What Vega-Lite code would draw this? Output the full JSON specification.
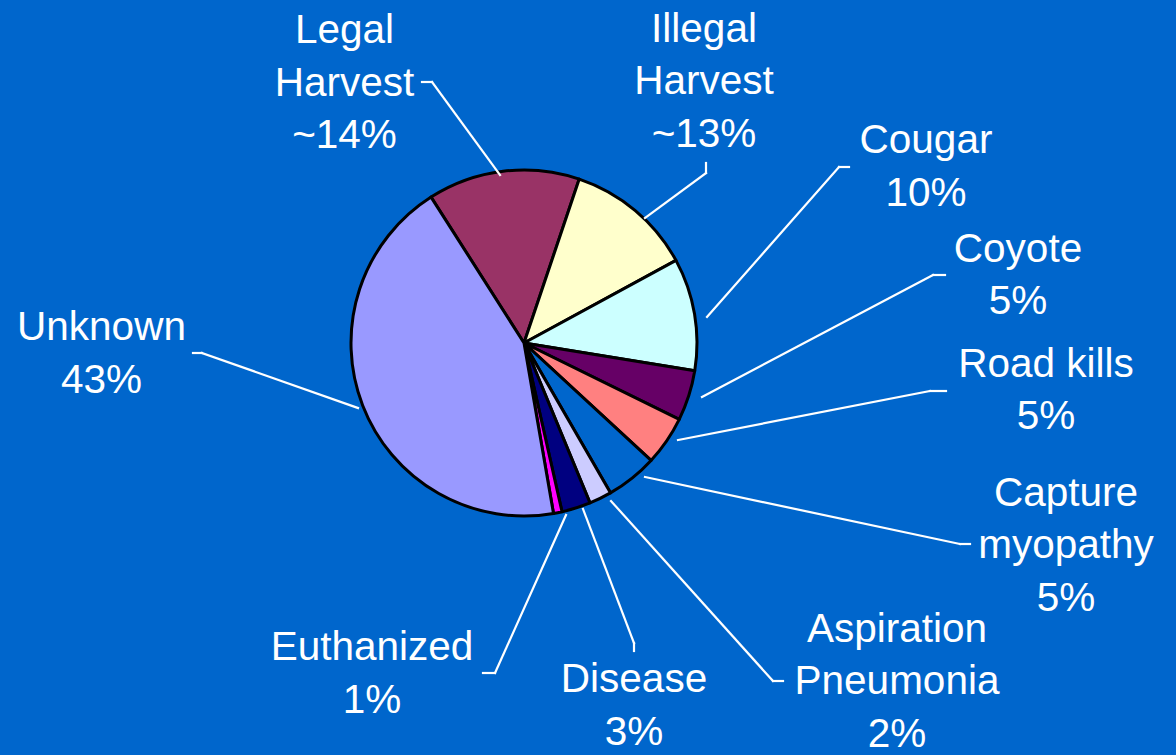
{
  "$schema": "https://vega.github.io/schema/vega-lite/v6.json",
  "width": 1048,
  "height": 686,
  "autosize": {"type": "none"},
  "padding": {"left": 0, "top": 0, "right": 128, "bottom": 69},
  "background": "#0066CC",
  "config": {
    "view": {"stroke": null},
    "text": {"font": "Liberation Sans", "fontSize": 40.5, "lineHeight": 52.5, "lineBreak": "\n", "align": "center", "baseline": "alphabetic", "fill": "#FFFFFF"},
    "rule": {"stroke": "#FFFFFF", "strokeWidth": 2.2, "strokeCap": "square"}
  },
  "data": {
    "values": [
      {"cause": "Legal Harvest", "value": 14.2, "label": "Legal\nHarvest\n~14%"},
      {"cause": "Illegal Harvest", "value": 11.9, "label": "Illegal\nHarvest\n~13%"},
      {"cause": "Cougar", "value": 10.5, "label": "Cougar\n10%"},
      {"cause": "Coyote", "value": 4.7, "label": "Coyote\n5%"},
      {"cause": "Road kills", "value": 4.6, "label": "Road kills\n5%"},
      {"cause": "Capture myopathy", "value": 4.8, "label": "Capture\nmyopathy\n5%"},
      {"cause": "Aspiration Pneumonia", "value": 2.1, "label": "Aspiration\nPneumonia\n2%"},
      {"cause": "Disease", "value": 2.7, "label": "Disease\n3%"},
      {"cause": "Euthanized", "value": 0.8, "label": "Euthanized\n1%"},
      {"cause": "Unknown", "value": 43.7, "label": "Unknown\n43%"}
    ]
  },
  "transform": [{"window": [{"op": "row_number", "as": "slice_order"}]}],
  "layer": [
    {
      "mark": {"type": "arc", "outerRadius": 173, "stroke": "#000000", "strokeWidth": 3, "strokeJoin": "round"},
      "encoding": {
        "theta": {"field": "value", "type": "quantitative", "stack": true, "scale": {"range": [-0.5672, 5.716]}},
        "order": {"field": "slice_order", "type": "quantitative"},
        "color": {
          "field": "cause", "type": "nominal", "legend": null,
          "scale": {
            "domain": ["Legal Harvest", "Illegal Harvest", "Cougar", "Coyote", "Road kills", "Capture myopathy", "Aspiration Pneumonia", "Disease", "Euthanized", "Unknown"],
            "range": ["#993366", "#FFFFCC", "#CCFFFF", "#660066", "#FF8080", "#0066CC", "#CCCCFF", "#000080", "#FF00FF", "#9999FF"]
          }
        }
      }
    },
    {
      "transform": [{"filter": "datum.cause === 'Legal Harvest'"}],
      "layer": [
        {"mark": "text", "encoding": {"x": {"datum": -179.5, "type": "quantitative", "scale": {"domain": [-524, 524], "nice": false, "zero": false}, "axis": null}, "y": {"datum": 299.7, "type": "quantitative", "scale": {"domain": [-343, 343], "nice": false, "zero": false}, "axis": null}, "text": {"field": "label"}}},
        {"mark": "rule", "encoding": {"x": {"datum": -102, "type": "quantitative", "scale": {"domain": [-524, 524], "nice": false, "zero": false}, "axis": null}, "y": {"datum": 261, "type": "quantitative", "scale": {"domain": [-343, 343], "nice": false, "zero": false}, "axis": null}, "x2": {"datum": -92}, "y2": {"datum": 261}}},
        {"mark": "rule", "encoding": {"x": {"datum": -92, "type": "quantitative", "scale": {"domain": [-524, 524], "nice": false, "zero": false}, "axis": null}, "y": {"datum": 261, "type": "quantitative", "scale": {"domain": [-343, 343], "nice": false, "zero": false}, "axis": null}, "x2": {"datum": -24}, "y2": {"datum": 168}}}
      ]
    },
    {
      "transform": [{"filter": "datum.cause === 'Illegal Harvest'"}],
      "layer": [
        {"mark": "text", "encoding": {"x": {"datum": 180, "type": "quantitative", "scale": {"domain": [-524, 524], "nice": false, "zero": false}, "axis": null}, "y": {"datum": 301.3, "type": "quantitative", "scale": {"domain": [-343, 343], "nice": false, "zero": false}, "axis": null}, "text": {"field": "label"}}},
        {"mark": "rule", "encoding": {"x": {"datum": 182, "type": "quantitative", "scale": {"domain": [-524, 524], "nice": false, "zero": false}, "axis": null}, "y": {"datum": 180, "type": "quantitative", "scale": {"domain": [-343, 343], "nice": false, "zero": false}, "axis": null}, "x2": {"datum": 182}, "y2": {"datum": 170}}},
        {"mark": "rule", "encoding": {"x": {"datum": 182, "type": "quantitative", "scale": {"domain": [-524, 524], "nice": false, "zero": false}, "axis": null}, "y": {"datum": 170, "type": "quantitative", "scale": {"domain": [-343, 343], "nice": false, "zero": false}, "axis": null}, "x2": {"datum": 121}, "y2": {"datum": 125}}}
      ]
    },
    {
      "transform": [{"filter": "datum.cause === 'Cougar'"}],
      "layer": [
        {"mark": "text", "encoding": {"x": {"datum": 402, "type": "quantitative", "scale": {"domain": [-524, 524], "nice": false, "zero": false}, "axis": null}, "y": {"datum": 189.7, "type": "quantitative", "scale": {"domain": [-343, 343], "nice": false, "zero": false}, "axis": null}, "text": {"field": "label"}}},
        {"mark": "rule", "encoding": {"x": {"datum": 315, "type": "quantitative", "scale": {"domain": [-524, 524], "nice": false, "zero": false}, "axis": null}, "y": {"datum": 176, "type": "quantitative", "scale": {"domain": [-343, 343], "nice": false, "zero": false}, "axis": null}, "x2": {"datum": 325}, "y2": {"datum": 176}}},
        {"mark": "rule", "encoding": {"x": {"datum": 315, "type": "quantitative", "scale": {"domain": [-524, 524], "nice": false, "zero": false}, "axis": null}, "y": {"datum": 176, "type": "quantitative", "scale": {"domain": [-343, 343], "nice": false, "zero": false}, "axis": null}, "x2": {"datum": 183}, "y2": {"datum": 26}}}
      ]
    },
    {
      "transform": [{"filter": "datum.cause === 'Coyote'"}],
      "layer": [
        {"mark": "text", "encoding": {"x": {"datum": 494, "type": "quantitative", "scale": {"domain": [-524, 524], "nice": false, "zero": false}, "axis": null}, "y": {"datum": 81.3, "type": "quantitative", "scale": {"domain": [-343, 343], "nice": false, "zero": false}, "axis": null}, "text": {"field": "label"}}},
        {"mark": "rule", "encoding": {"x": {"datum": 409, "type": "quantitative", "scale": {"domain": [-524, 524], "nice": false, "zero": false}, "axis": null}, "y": {"datum": 68, "type": "quantitative", "scale": {"domain": [-343, 343], "nice": false, "zero": false}, "axis": null}, "x2": {"datum": 421}, "y2": {"datum": 68}}},
        {"mark": "rule", "encoding": {"x": {"datum": 409, "type": "quantitative", "scale": {"domain": [-524, 524], "nice": false, "zero": false}, "axis": null}, "y": {"datum": 68, "type": "quantitative", "scale": {"domain": [-343, 343], "nice": false, "zero": false}, "axis": null}, "x2": {"datum": 178}, "y2": {"datum": -54}}}
      ]
    },
    {
      "transform": [{"filter": "datum.cause === 'Road kills'"}],
      "layer": [
        {"mark": "text", "encoding": {"x": {"datum": 522, "type": "quantitative", "scale": {"domain": [-524, 524], "nice": false, "zero": false}, "axis": null}, "y": {"datum": -33.7, "type": "quantitative", "scale": {"domain": [-343, 343], "nice": false, "zero": false}, "axis": null}, "text": {"field": "label"}}},
        {"mark": "rule", "encoding": {"x": {"datum": 406, "type": "quantitative", "scale": {"domain": [-524, 524], "nice": false, "zero": false}, "axis": null}, "y": {"datum": -48, "type": "quantitative", "scale": {"domain": [-343, 343], "nice": false, "zero": false}, "axis": null}, "x2": {"datum": 422}, "y2": {"datum": -48}}},
        {"mark": "rule", "encoding": {"x": {"datum": 406, "type": "quantitative", "scale": {"domain": [-524, 524], "nice": false, "zero": false}, "axis": null}, "y": {"datum": -48, "type": "quantitative", "scale": {"domain": [-343, 343], "nice": false, "zero": false}, "axis": null}, "x2": {"datum": 154}, "y2": {"datum": -97}}}
      ]
    },
    {
      "transform": [{"filter": "datum.cause === 'Capture myopathy'"}],
      "layer": [
        {"mark": "text", "encoding": {"x": {"datum": 542, "type": "quantitative", "scale": {"domain": [-524, 524], "nice": false, "zero": false}, "axis": null}, "y": {"datum": -162.7, "type": "quantitative", "scale": {"domain": [-343, 343], "nice": false, "zero": false}, "axis": null}, "text": {"field": "label"}}},
        {"mark": "rule", "encoding": {"x": {"datum": 436, "type": "quantitative", "scale": {"domain": [-524, 524], "nice": false, "zero": false}, "axis": null}, "y": {"datum": -201, "type": "quantitative", "scale": {"domain": [-343, 343], "nice": false, "zero": false}, "axis": null}, "x2": {"datum": 446}, "y2": {"datum": -201}}},
        {"mark": "rule", "encoding": {"x": {"datum": 436, "type": "quantitative", "scale": {"domain": [-524, 524], "nice": false, "zero": false}, "axis": null}, "y": {"datum": -201, "type": "quantitative", "scale": {"domain": [-343, 343], "nice": false, "zero": false}, "axis": null}, "x2": {"datum": 121}, "y2": {"datum": -134}}}
      ]
    },
    {
      "transform": [{"filter": "datum.cause === 'Aspiration Pneumonia'"}],
      "layer": [
        {"mark": "text", "encoding": {"x": {"datum": 373, "type": "quantitative", "scale": {"domain": [-524, 524], "nice": false, "zero": false}, "axis": null}, "y": {"datum": -298.7, "type": "quantitative", "scale": {"domain": [-343, 343], "nice": false, "zero": false}, "axis": null}, "text": {"field": "label"}}},
        {"mark": "rule", "encoding": {"x": {"datum": 249, "type": "quantitative", "scale": {"domain": [-524, 524], "nice": false, "zero": false}, "axis": null}, "y": {"datum": -338, "type": "quantitative", "scale": {"domain": [-343, 343], "nice": false, "zero": false}, "axis": null}, "x2": {"datum": 259}, "y2": {"datum": -338}}},
        {"mark": "rule", "encoding": {"x": {"datum": 249, "type": "quantitative", "scale": {"domain": [-524, 524], "nice": false, "zero": false}, "axis": null}, "y": {"datum": -338, "type": "quantitative", "scale": {"domain": [-343, 343], "nice": false, "zero": false}, "axis": null}, "x2": {"datum": 87}, "y2": {"datum": -158}}}
      ]
    },
    {
      "transform": [{"filter": "datum.cause === 'Disease'"}],
      "layer": [
        {"mark": "text", "encoding": {"x": {"datum": 110, "type": "quantitative", "scale": {"domain": [-524, 524], "nice": false, "zero": false}, "axis": null}, "y": {"datum": -349, "type": "quantitative", "scale": {"domain": [-343, 343], "nice": false, "zero": false}, "axis": null}, "text": {"field": "label"}}},
        {"mark": "rule", "encoding": {"x": {"datum": 110, "type": "quantitative", "scale": {"domain": [-524, 524], "nice": false, "zero": false}, "axis": null}, "y": {"datum": -300, "type": "quantitative", "scale": {"domain": [-343, 343], "nice": false, "zero": false}, "axis": null}, "x2": {"datum": 110}, "y2": {"datum": -308}}},
        {"mark": "rule", "encoding": {"x": {"datum": 110, "type": "quantitative", "scale": {"domain": [-524, 524], "nice": false, "zero": false}, "axis": null}, "y": {"datum": -300, "type": "quantitative", "scale": {"domain": [-343, 343], "nice": false, "zero": false}, "axis": null}, "x2": {"datum": 59}, "y2": {"datum": -166}}}
      ]
    },
    {
      "transform": [{"filter": "datum.cause === 'Euthanized'"}],
      "layer": [
        {"mark": "text", "encoding": {"x": {"datum": -152, "type": "quantitative", "scale": {"domain": [-524, 524], "nice": false, "zero": false}, "axis": null}, "y": {"datum": -317, "type": "quantitative", "scale": {"domain": [-343, 343], "nice": false, "zero": false}, "axis": null}, "text": {"field": "label"}}},
        {"mark": "rule", "encoding": {"x": {"datum": -41, "type": "quantitative", "scale": {"domain": [-524, 524], "nice": false, "zero": false}, "axis": null}, "y": {"datum": -330, "type": "quantitative", "scale": {"domain": [-343, 343], "nice": false, "zero": false}, "axis": null}, "x2": {"datum": -29}, "y2": {"datum": -330}}},
        {"mark": "rule", "encoding": {"x": {"datum": -29, "type": "quantitative", "scale": {"domain": [-524, 524], "nice": false, "zero": false}, "axis": null}, "y": {"datum": -330, "type": "quantitative", "scale": {"domain": [-343, 343], "nice": false, "zero": false}, "axis": null}, "x2": {"datum": 42}, "y2": {"datum": -172}}}
      ]
    },
    {
      "transform": [{"filter": "datum.cause === 'Unknown'"}],
      "layer": [
        {"mark": "text", "encoding": {"x": {"datum": -422.5, "type": "quantitative", "scale": {"domain": [-524, 524], "nice": false, "zero": false}, "axis": null}, "y": {"datum": 3, "type": "quantitative", "scale": {"domain": [-343, 343], "nice": false, "zero": false}, "axis": null}, "text": {"field": "label"}}},
        {"mark": "rule", "encoding": {"x": {"datum": -331, "type": "quantitative", "scale": {"domain": [-524, 524], "nice": false, "zero": false}, "axis": null}, "y": {"datum": -10, "type": "quantitative", "scale": {"domain": [-343, 343], "nice": false, "zero": false}, "axis": null}, "x2": {"datum": -322}, "y2": {"datum": -10}}},
        {"mark": "rule", "encoding": {"x": {"datum": -322, "type": "quantitative", "scale": {"domain": [-524, 524], "nice": false, "zero": false}, "axis": null}, "y": {"datum": -10, "type": "quantitative", "scale": {"domain": [-343, 343], "nice": false, "zero": false}, "axis": null}, "x2": {"datum": -166}, "y2": {"datum": -65}}}
      ]
    }
  ]
}
